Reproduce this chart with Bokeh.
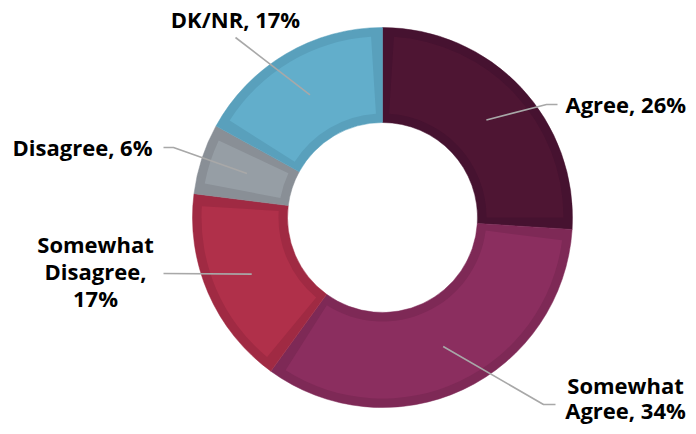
import numpy as np
from bokeh.plotting import figure
from bokeh.models import Range1d, ColumnDataSource
from bokeh.core.properties import value
from bokeh.embed import file_html
from bokeh.resources import INLINE

# ---- data ----
categories = ["Agree", "Somewhat Agree", "Somewhat Disagree", "Disagree", "DK/NR"]
percents = [26, 34, 17, 6, 17]
fill_colors = ["#4E1533", "#8B2E5F", "#B0304A", "#969EA5", "#62AECB"]
border_colors = ["#461230", "#7E2956", "#A02A43", "#898F96", "#59A0BC"]
label_lines = [
    ["Agree, 26%"],
    ["Somewhat", "Agree, 34%"],
    ["Somewhat", "Disagree,", "17%"],
    ["Disagree, 6%"],
    ["DK/NR, 17%"],
]

# ---- layout (pixel coordinates of the reference picture) ----
CX, CY = 382, 217
R_OUT, R_IN = 190, 95
BORDER = 9
TEXT_SHIFT = -10  # compensation for the renderer's baseline placement
label_layout = [
    dict(x=565, y=113, align="left", step=27, path=[(546, 104), (557, 104)]),
    dict(x=625, y=394, align="center", step=25, path=[(543, 404), (555, 404)]),
    dict(x=95, y=253, align="center", step=27, path=[(163, 273)]),
    dict(x=82, y=156, align="center", step=27, path=[(173, 147), (163, 147)]),
    dict(x=235, y=28, align="center", step=27, path=[(235, 37)]),
]


def X(sx):
    return sx - CX


def Y(sy):
    return CY - sy


W, H = 688, 426
p = figure(width=W, height=H, output_backend="svg", toolbar_location=None,
           x_range=Range1d(X(0), X(W)), y_range=Range1d(Y(H), Y(0)),
           min_border=0)
p.axis.visible = False
p.grid.visible = False
p.outline_line_color = None
p.background_fill_color = "white"
p.border_fill_color = "white"

vals = np.array(percents, dtype=float)
frac = vals / vals.sum()
cum_end = np.cumsum(frac)
cum_start = cum_end - frac
start = np.pi / 2 - cum_end * 2 * np.pi
end = np.pi / 2 - cum_start * 2 * np.pi
mid = (start + end) / 2

src = ColumnDataSource(dict(cat=categories, start=start, end=end,
                            fill=fill_colors, border=border_colors))
p.annular_wedge(x=0, y=0, inner_radius=R_IN, outer_radius=R_OUT,
                start_angle="start", end_angle="end", source=src,
                fill_color="border", line_color="border", line_width=0.5)

delta = BORDER / ((R_IN + R_OUT) / 2)
src2 = ColumnDataSource(dict(start=start + delta, end=end - delta, fill=fill_colors))
p.annular_wedge(x=0, y=0, inner_radius=R_IN + BORDER, outer_radius=R_OUT - BORDER,
                start_angle="start", end_angle="end", source=src2,
                fill_color="fill", line_color=None)

# leader lines
r_mid = (R_IN + R_OUT) / 2
for i, lay in enumerate(label_layout):
    xs = [r_mid * np.cos(mid[i])] + [X(px) for px, _ in lay["path"]]
    ys = [r_mid * np.sin(mid[i])] + [Y(py) for _, py in lay["path"]]
    p.line(xs, ys, line_color="#A8A8A8", line_width=1.6)

# labels
for i, lay in enumerate(label_layout):
    lines = label_lines[i]
    p.text(x=[X(lay["x"])] * len(lines),
           y=[Y(lay["y"] + TEXT_SHIFT + k * lay["step"]) for k in range(len(lines))],
           text=lines, text_font=value("Open Sans"), text_font_style="bold",
           text_font_size="22px", text_color="#000000",
           text_align=lay["align"], text_baseline="alphabetic")

open("out.html", "w").write(file_html(p, INLINE))
